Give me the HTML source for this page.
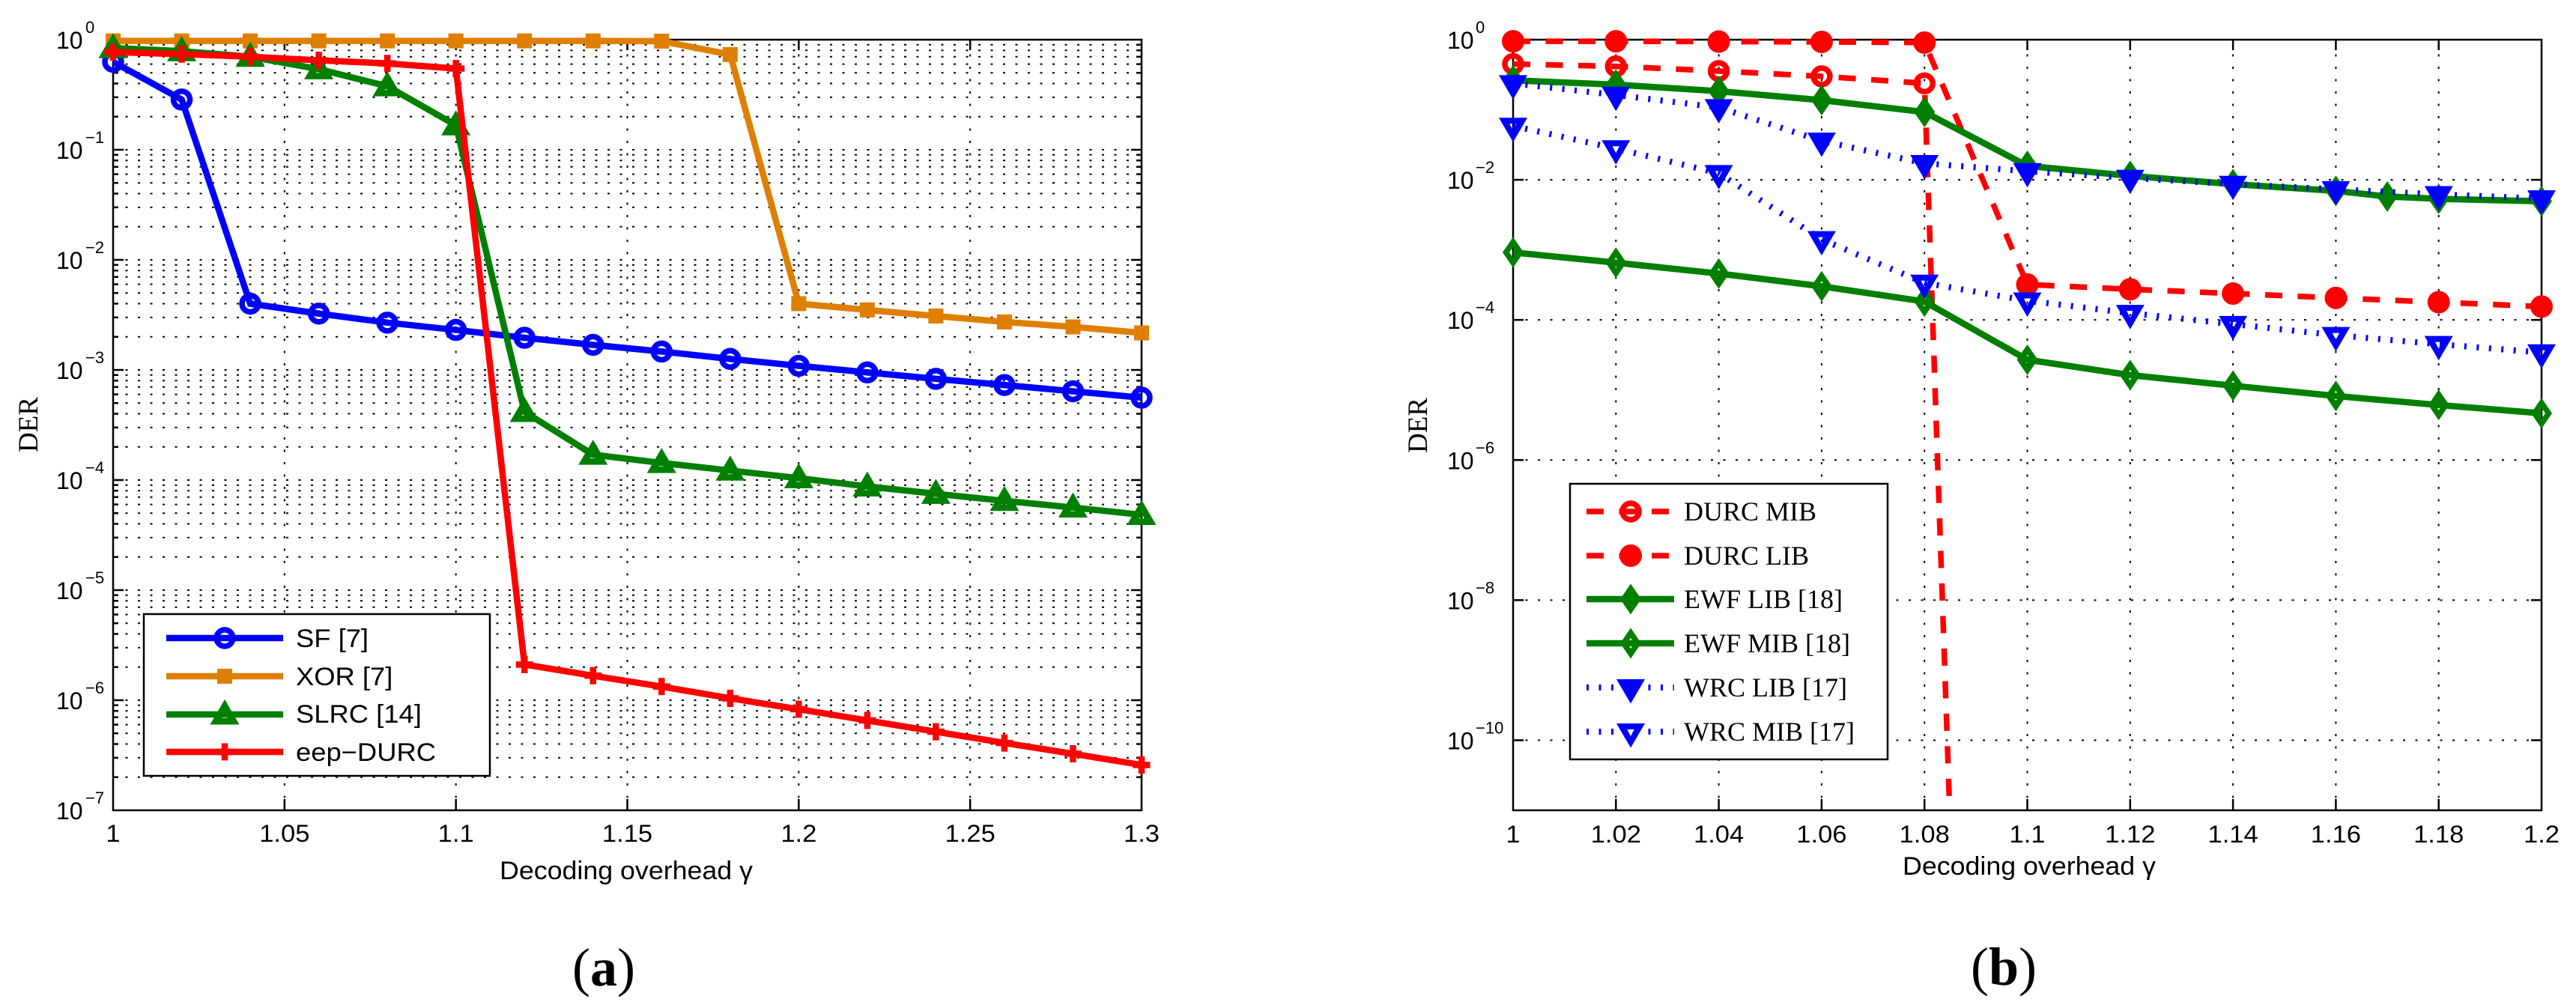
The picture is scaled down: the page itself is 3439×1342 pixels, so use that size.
<!DOCTYPE html>
<html lang="en">
<head>
<meta charset="utf-8">
<title>DER versus decoding overhead</title>
<style>
html,body{margin:0;padding:0;background:#fff;width:3439px;height:1342px;overflow:hidden}
svg{display:block;position:absolute;left:0;top:0;overflow:hidden}
text{fill:#000}
.sans{font-family:"Liberation Sans",sans-serif}
.serif{font-family:"Liberation Serif",serif}
</style>
</head>
<body>
<svg id="figure" xmlns="http://www.w3.org/2000/svg" width="3439" height="1342" viewBox="0 0 3439 1342">
  <rect x="0" y="0" width="3439" height="1342" fill="#fff"/>

  <g id="panel-a">
    <g id="grid-a"></g>
    <rect x="151" y="53" width="1373" height="1029" fill="none" stroke="#000" stroke-width="2.5"/>
    <g id="ticks-a"></g>
    <g id="marks-a"></g>
    <text class="serif" font-size="37" text-anchor="middle" transform="translate(50,567) rotate(-90)">DER</text>
    <text class="sans" font-size="34" x="667" y="1174" textLength="338" lengthAdjust="spacingAndGlyphs">Decoding overhead γ</text>
    <g id="legend-a">
      <rect x="192" y="820" width="462" height="216" fill="#fff" stroke="#000" stroke-width="2.5"/>
      <text class="sans" font-size="34" transform="translate(395,864) scale(1.07,1)">SF [7]</text>
      <text class="sans" font-size="34" transform="translate(395,915) scale(1.07,1)">XOR [7]</text>
      <text class="sans" font-size="34" transform="translate(395,965) scale(1.07,1)">SLRC [14]</text>
      <text class="sans" font-size="34" transform="translate(395,1016) scale(1.07,1)">eep−DURC</text>
    </g>
    <text class="serif" font-size="72" text-anchor="middle" x="806" y="1316">(<tspan font-weight="bold">a</tspan>)</text>
  </g>

  <g id="panel-b">
    <g id="grid-b"></g>
    <rect x="2020" y="53" width="1373" height="1029" fill="none" stroke="#000" stroke-width="2.5"/>
    <g id="ticks-b"></g>
    <g id="marks-b"></g>
    <text class="serif" font-size="37" text-anchor="middle" transform="translate(1905,568) rotate(-90)">DER</text>
    <text class="sans" font-size="34" x="2540" y="1168" textLength="338" lengthAdjust="spacingAndGlyphs">Decoding overhead γ</text>
    <g id="legend-b">
      <rect x="2096" y="646" width="424" height="368" fill="#fff" stroke="#000" stroke-width="2.5"/>
      <text class="serif" font-size="36" x="2248" y="695">DURC MIB</text>
      <text class="serif" font-size="36" x="2248" y="754">DURC LIB</text>
      <text class="serif" font-size="36" x="2248" y="812">EWF LIB [18]</text>
      <text class="serif" font-size="36" x="2248" y="871">EWF MIB [18]</text>
      <text class="serif" font-size="36" x="2248" y="930">WRC LIB [17]</text>
      <text class="serif" font-size="36" x="2248" y="989">WRC MIB [17]</text>
    </g>
    <text class="serif" font-size="72" text-anchor="middle" x="2675" y="1315">(<tspan font-weight="bold">b</tspan>)</text>
  </g>
</svg>

<script>
// ---- chart (a) data ----
const gammaA = [1, 1.02, 1.04, 1.06, 1.08, 1.1, 1.12, 1.14, 1.16, 1.18, 1.2, 1.22, 1.24, 1.26, 1.28, 1.3];
const sfValues = [0.63, 0.286, 0.0040, 0.00325, 0.00269, 0.00231, 0.00196, 0.00169, 0.00147, 0.00126, 0.00109, 0.00095, 0.00083, 0.00073, 0.00064, 0.00056];
const xorValues = [0.975, 0.975, 0.975, 0.975, 0.975, 0.975, 0.975, 0.975, 0.97, 0.733, 0.0040, 0.00351, 0.00309, 0.00273, 0.00246, 0.00217];
const slrcValues = [0.84, 0.787, 0.70, 0.54, 0.378, 0.167, 0.000416, 0.00017, 0.000143, 0.000122, 0.000104, 0.0000875, 0.000075, 0.0000647, 0.0000563, 0.0000483];
const eepDurcValues = [0.77, 0.74, 0.70, 0.65, 0.608, 0.547, 2.11e-6, 1.67e-6, 1.33e-6, 1.04e-6, 8.28e-7, 6.55e-7, 5.17e-7, 4.09e-7, 3.26e-7, 2.58e-7];
const xTickLabelsA = ['1', '1.05', '1.1', '1.15', '1.2', '1.25', '1.3'];
const yTickExponentsA = [0, -1, -2, -3, -4, -5, -6, -7];

// ---- chart (b) data ----
const gammaB = [1, 1.02, 1.04, 1.06, 1.08, 1.1, 1.12, 1.14, 1.16, 1.18, 1.2];
const gammaDurcMib = [1, 1.02, 1.04, 1.06, 1.08, 1.1];
const gammaEwfLib = [1, 1.02, 1.04, 1.06, 1.08, 1.1, 1.12, 1.14, 1.16, 1.17, 1.18, 1.2];
const durcMibValues = [0.45, 0.416, 0.357, 0.30, 0.238, 1e-43];
const durcLibValues = [0.95, 0.95, 0.94, 0.93, 0.91, 3.2e-4, 2.74e-4, 2.38e-4, 2.06e-4, 1.79e-4, 1.55e-4];
const ewfLibValues = [0.263, 0.228, 0.184, 0.137, 0.0927, 0.0158, 0.0114, 0.00867, 0.00695, 0.00577, 0.00535, 0.00494];
const ewfMibValues = [9.2e-4, 6.56e-4, 4.59e-4, 3.02e-4, 1.83e-4, 2.7e-5, 1.63e-5, 1.15e-5, 8.2e-6, 6.1e-6, 4.65e-6];
const wrcLibValues = [0.238, 0.1625, 0.108, 0.0359, 0.0172, 0.01324, 0.0106, 0.0087, 0.0073, 0.0062, 0.0054];
const wrcMibValues = [0.0586, 0.028, 0.0124, 0.00141, 3.38e-4, 1.88e-4, 1.25e-4, 8.7e-5, 6.05e-5, 4.5e-5, 3.42e-5];
const xTickLabelsB = ['1', '1.02', '1.04', '1.06', '1.08', '1.1', '1.12', '1.14', '1.16', '1.18', '1.2'];
const yTickExponentsB = [0, -2, -4, -6, -8, -10];

// ---- axis functions ----
const PLOT_TOP = 53, PLOT_BOTTOM = 1082;
function xA(v) { return 151 + (v - 1) / 0.3 * 1373; }
function yA(v) { return PLOT_TOP - Math.log10(v) * (PLOT_BOTTOM - PLOT_TOP) / 7; }
function xB(v) { return 2020 + (v - 1) / 0.2 * 1373; }
function yB(v) { return PLOT_TOP - Math.log10(v) * (PLOT_BOTTOM - PLOT_TOP) / 11; }

const SVG_NS = 'http://www.w3.org/2000/svg';
const RED = '#ff0000', BLUE = '#0000ff', GREEN = '#007f00', ORANGE = '#df7f00';
const byId = function (id) { return document.getElementById(id); };

function make(parent, tag, attrs) {
  const el = document.createElementNS(SVG_NS, tag);
  for (const k in attrs) el.setAttribute(k, attrs[k]);
  parent.appendChild(el);
  return el;
}

function loop(list) {
  return 'M' + list.map(function (p) { return p[0] + ' ' + p[1]; }).join('L') + 'Z';
}

function drawMarker(parent, kind, x, y, color) {
  let el;
  if (kind === 'ring') {
    el = make(parent, 'circle', { cx: x, cy: y, r: 11, fill: 'none', stroke: color, 'stroke-width': 7.5 });
  } else if (kind === 'disc') {
    el = make(parent, 'circle', { cx: x, cy: y, r: 15, fill: color });
  } else if (kind === 'square') {
    el = make(parent, 'rect', { x: x - 10, y: y - 10, width: 20, height: 20, fill: color });
  } else if (kind === 'triangle') {
    el = make(parent, 'path', { d: loop([[x, y - 20], [x + 19.5, y + 13.5], [x - 19.5, y + 13.5]]) + loop([[x, y - 3], [x + 3.5, y + 5], [x - 3.5, y + 5]]), fill: color, 'fill-rule': 'evenodd' });
  } else if (kind === 'plus') {
    el = make(parent, 'path', { d: 'M' + (x - 11.5) + ' ' + y + 'H' + (x + 11.5) + 'M' + x + ' ' + (y - 11.5) + 'V' + (y + 11.5), fill: 'none', stroke: color, 'stroke-width': 8.5 });
  } else if (kind === 'diamond') {
    el = make(parent, 'path', { d: loop([[x, y - 20.5], [x + 14, y], [x, y + 20.5], [x - 14, y]]), fill: color });
  } else if (kind === 'diamond-open') {
    el = make(parent, 'path', { d: loop([[x, y - 20.5], [x + 14, y], [x, y + 20.5], [x - 14, y]]) + loop([[x, y - 7], [x + 5, y], [x, y + 7], [x - 5, y]]), fill: color, 'fill-rule': 'evenodd' });
  } else if (kind === 'down') {
    el = make(parent, 'path', { d: loop([[x - 19, y - 11], [x + 19, y - 11], [x, y + 21.5]]), fill: color });
  } else {
    el = make(parent, 'path', { d: loop([[x - 19, y - 11], [x + 19, y - 11], [x, y + 21.5]]) + loop([[x - 4.7, y - 3], [x + 4.7, y - 3], [x, y + 6]]), fill: color, 'fill-rule': 'evenodd' });
  }
  
  
  return el;
}

function lineWidth(dash) { return dash ? (dash === DASHED ? 7.5 : 8) : 8.5; }

function drawSeries(host, xs, values, xFn, yFn, color, dash, kind) {
  const group = make(host, 'g', {});
  
  
  // the polyline stops where it leaves the plot through the bottom axis
  const coords = [];
  for (let i = 0; i < xs.length; i++) {
    const px = xFn(xs[i]), py = yFn(values[i]);
    if (py > PLOT_BOTTOM && i > 0) {
      const qx = xFn(xs[i - 1]), qy = yFn(values[i - 1]);
      const t = (PLOT_BOTTOM - qy) / (py - qy);
      coords.push((qx + (px - qx) * t) + ',' + PLOT_BOTTOM);
      break;
    }
    coords.push(px + ',' + py);
  }
  const attrs = { points: coords.join(' '), fill: 'none', stroke: color, 'stroke-width': lineWidth(dash), 'stroke-linejoin': 'miter' };
  if (dash) attrs['stroke-dasharray'] = dash;
  const line = make(group, 'polyline', attrs);
  
  
  xs.forEach(function (g, i) {
    const py = yFn(values[i]);
    if (py <= PLOT_BOTTOM) drawMarker(group, kind, xFn(g), py, color);
  });
}

function drawLegendRow(host, x1, x2, xm, y, color, dash, kind) {
  const attrs = { x1: x1, x2: x2, y1: y, y2: y, stroke: color, 'stroke-width': lineWidth(dash) };
  if (dash) attrs['stroke-dasharray'] = dash;
  const line = make(host, 'line', attrs);
  
  
  drawMarker(host, kind, xm, y, color);
}

function drawGridLine(host, x1, y1, x2, y2) {
  const el = make(host, 'line', { x1: x1, y1: y1, x2: x2, y2: y2, stroke: '#000', 'stroke-width': 2, 'stroke-dasharray': '3 13.5' });
  
  
}

function drawTick(host, x1, y1, x2, y2) {
  const el = make(host, 'line', { x1: x1, y1: y1, x2: x2, y2: y2, stroke: '#000', 'stroke-width': 2.5 });
  
  
}

function drawXLabel(host, x, y, label) {
  const el = make(host, 'text', { 'font-size': 32, 'text-anchor': 'middle', 'class': 'sans', transform: 'translate(' + x + ',' + y + ') scale(1.08,1)' });
  el.textContent = label;
  
  
}

function drawYLabel(host, xBase, xExp, y, exponent) {
  const base = make(host, 'text', { 'font-size': 32, 'class': 'sans', x: xBase, y: y + 12 });
  base.textContent = '10';
  
  
  const exp = make(host, 'text', { 'font-size': 22, 'class': 'sans', x: xExp, y: y - 9 });
  exp.textContent = String(exponent).replace('-', '\u2212');
  
  
}

// ---- chart (a) axes ----
(function () {
  const grid = byId('grid-a'), ticks = byId('ticks-a');
  xTickLabelsA.forEach(function (label) {
    const x = xA(parseFloat(label));
    if (x > 152 && x < 1523) {
      drawGridLine(grid, x, PLOT_BOTTOM, x, PLOT_TOP);
      drawTick(ticks, x, PLOT_BOTTOM, x, PLOT_BOTTOM - 15);
      drawTick(ticks, x, PLOT_TOP, x, PLOT_TOP + 14);
    }
    drawXLabel(ticks, x, 1124, label);
  });
  yTickExponentsA.forEach(function (e) {
    const y = yA(Math.pow(10, e));
    if (e !== 0 && e !== -7) drawGridLine(grid, 151, y, 1524, y);
    if (e !== 0 && e !== -7) {
      drawTick(ticks, 151, y, 165, y);
      drawTick(ticks, 1524, y, 1510, y);
    }
    drawYLabel(ticks, 75, 114, y, e);
    if (e > -7) {
      for (let m = 2; m <= 9; m++) {
        const ym = yA(m * Math.pow(10, e - 1));
        drawGridLine(grid, 151, ym, 1524, ym);
        drawTick(ticks, 151, ym, 158, ym);
        drawTick(ticks, 1524, ym, 1517, ym);
      }
    }
  });
})();

// ---- chart (b) axes ----
(function () {
  const grid = byId('grid-b'), ticks = byId('ticks-b');
  xTickLabelsB.forEach(function (label) {
    const x = xB(parseFloat(label));
    if (x > 2021 && x < 3392) {
      drawGridLine(grid, x, PLOT_BOTTOM, x, PLOT_TOP);
      drawTick(ticks, x, PLOT_BOTTOM, x, PLOT_BOTTOM - 15);
      drawTick(ticks, x, PLOT_TOP, x, PLOT_TOP + 14);
    }
    drawXLabel(ticks, x, 1125, label);
  });
  yTickExponentsB.forEach(function (e) {
    const y = yB(Math.pow(10, e));
    if (e !== 0) {
      drawGridLine(grid, 2020, y, 3393, y);
      drawTick(ticks, 2020, y, 2034, y);
      drawTick(ticks, 3393, y, 3379, y);
    }
    drawYLabel(ticks, 1932, 1970, y, e);
  });
})();

const DASHED = '23 20.5', DOTTED = '3 13.5';

// ---- chart (a) series ----
const marksA = byId('marks-a');
drawSeries(marksA, gammaA, sfValues, xA, yA, BLUE, null, 'ring');
drawSeries(marksA, gammaA, xorValues, xA, yA, ORANGE, null, 'square');
drawSeries(marksA, gammaA, slrcValues, xA, yA, GREEN, null, 'triangle');
drawSeries(marksA, gammaA, eepDurcValues, xA, yA, RED, null, 'plus');

const legendA = byId('legend-a');
drawLegendRow(legendA, 222, 378, 300, 852, BLUE, null, 'ring');
drawLegendRow(legendA, 222, 378, 300, 903, ORANGE, null, 'square');
drawLegendRow(legendA, 222, 378, 300, 954, GREEN, null, 'triangle');
drawLegendRow(legendA, 222, 378, 300, 1004, RED, null, 'plus');

// ---- chart (b) series ----
const marksB = byId('marks-b');
drawSeries(marksB, gammaDurcMib, durcMibValues, xB, yB, RED, DASHED, 'ring');
drawSeries(marksB, gammaB, durcLibValues, xB, yB, RED, DASHED, 'disc');
drawSeries(marksB, gammaEwfLib, ewfLibValues, xB, yB, GREEN, null, 'diamond');
drawSeries(marksB, gammaB, ewfMibValues, xB, yB, GREEN, null, 'diamond-open');
drawSeries(marksB, gammaB, wrcLibValues, xB, yB, BLUE, DOTTED, 'down');
drawSeries(marksB, gammaB, wrcMibValues, xB, yB, BLUE, DOTTED, 'down-open');

const legendB = byId('legend-b');
drawLegendRow(legendB, 2118, 2235, 2177, 683, RED, DASHED, 'ring');
drawLegendRow(legendB, 2118, 2235, 2177, 742, RED, DASHED, 'disc');
drawLegendRow(legendB, 2118, 2235, 2177, 800, GREEN, null, 'diamond');
drawLegendRow(legendB, 2118, 2235, 2177, 859, GREEN, null, 'diamond-open');
drawLegendRow(legendB, 2118, 2235, 2177, 918, BLUE, DOTTED, 'down');
drawLegendRow(legendB, 2118, 2235, 2177, 977, BLUE, DOTTED, 'down-open');
</script>
</body>
</html>
